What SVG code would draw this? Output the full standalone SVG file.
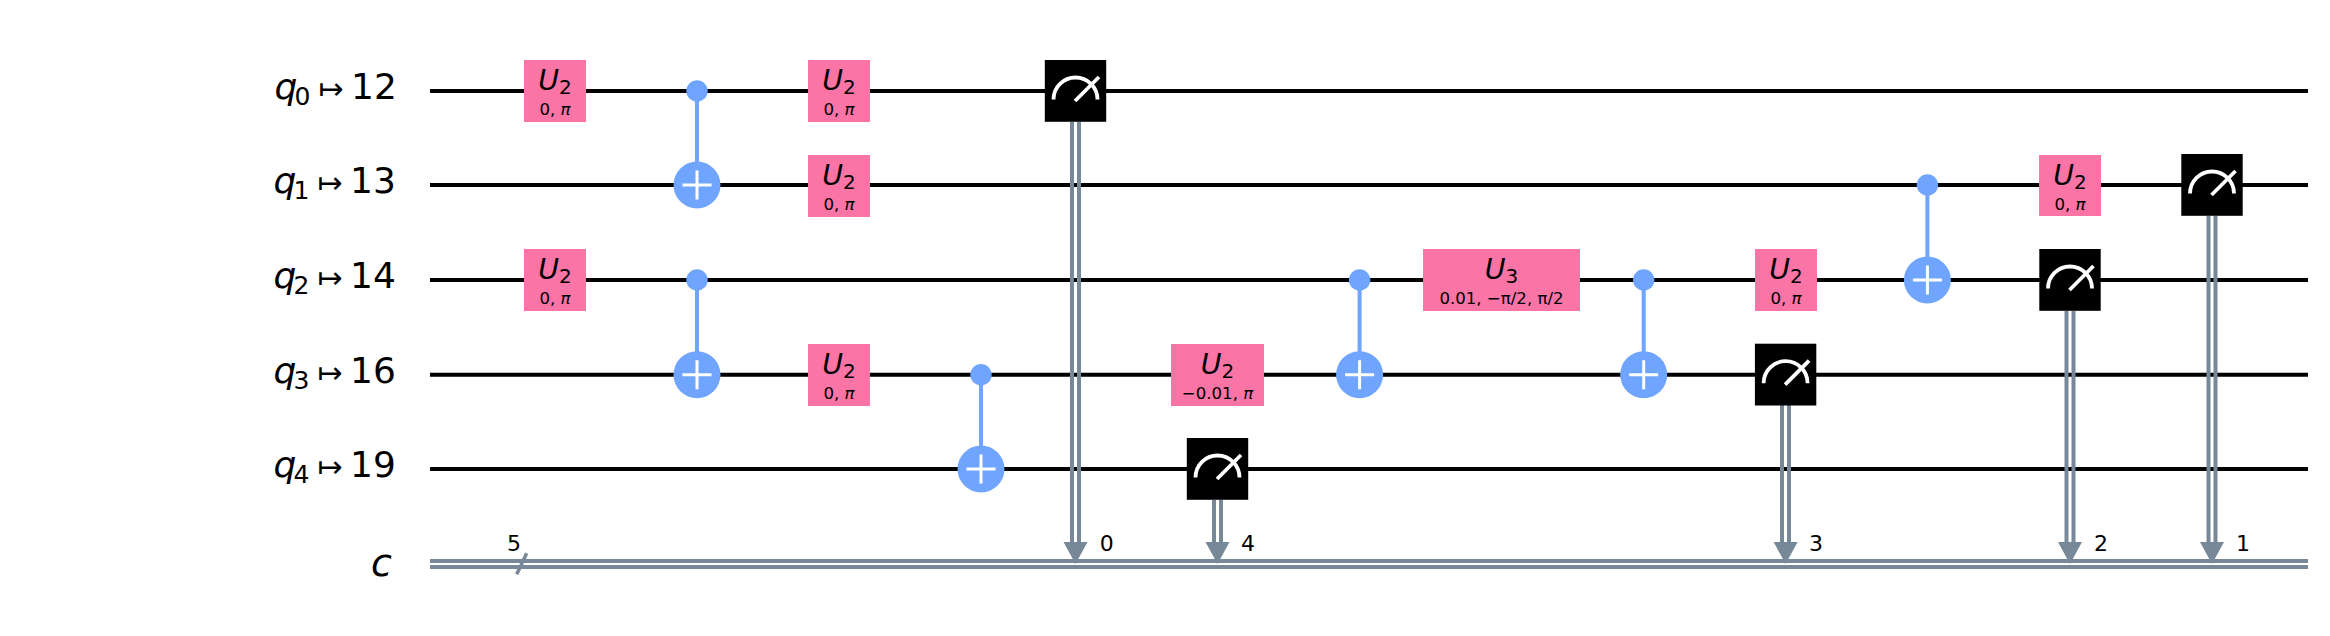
<svg xmlns="http://www.w3.org/2000/svg" xmlns:xlink="http://www.w3.org/1999/xlink" width="2330" height="636" viewBox="0 0 2330 636">
<style>
text{font-family:"DejaVu Sans",sans-serif;fill:#000}
.i{font-style:italic}
.lab{font-size:36px}
.sub{font-size:25px}
.mt{font-size:30px}
.g{fill:#FA74A6}
.gt{font-size:28.4px;text-anchor:middle}
.gs{font-size:20px}
.p{font-size:16.6px;text-anchor:middle}
.w{stroke:#000;stroke-width:4;fill:none}
.cw{stroke:#778899;stroke-width:4;fill:none}
.sl{stroke:#778899;stroke-width:3.5;fill:none}
.b{stroke:#6FA4FF;stroke-width:4;fill:none}
.d{fill:#6FA4FF}
.pl{stroke:#fff;stroke-width:3;fill:none}
.m{fill:#000}
.mi{stroke:#fff;stroke-width:3.8;fill:none}
.ar{fill:#778899}
.n{font-size:22px;text-anchor:middle}
</style>
<defs>
<g id="meter">
<rect class="m" x="-30.7" y="-31" width="61.4" height="61.8"/>
<path class="mi" d="M-22 8.5A22 22 0 0 1 22 8.500"/>
<path class="mi" d="M-0.5 10L23.500 -14"/>
</g>
<g id="plus">
<circle class="d" r="23.500"/>
<path class="pl" d="M-14.500 0H14.500M0 -14.500V14.500"/>
</g>
</defs>
<rect width="2330" height="636" fill="#fff"/>
<g id="connectors">
<path class="w" d="M430 91H2308M430 185H2308M430 280H2308M430 374.700H2308M430 469H2308"/>
<path class="cw" d="M430 561H2308M430 567H2308"/>
<path class="sl" d="M516.700 574.300L526.700 553.300"/>
<path class="b" d="M697 91V185M697 280V374.700M981 374.700V469M1359.600 280V374.700M1643.700 280V374.700M1927.400 185V280"/>
<path class="cw" d="M1072 122V543M1079 122V543M1214 500V543M1221 500V543M1782 405V543M1789 405V543M2066.500 311V543M2073.500 311V543M2208.500 216V543M2215.500 216V543"/>
<path class="ar" d="M1063.500 542H1087.500L1075.500 564ZM1205.500 542H1229.500L1217.500 564ZM1773.600 542H1797.600L1785.600 564ZM2058 542H2082L2070 564ZM2200 542H2224L2212 564Z"/>
</g>
<g id="labels">
<text class="lab" y="99.300"><tspan class="i" x="274.500">q</tspan><tspan class="sub" x="294.500" dy="5.500">0</tspan><tspan class="mt" x="318.500" dy="-5.500">↦</tspan><tspan x="351">12</tspan></text>
<text class="lab" y="193.300"><tspan class="i" x="273.500">q</tspan><tspan class="sub" x="293.500" dy="5.500">1</tspan><tspan class="mt" x="317.500" dy="-5.500">↦</tspan><tspan x="350">13</tspan></text>
<text class="lab" y="288.300"><tspan class="i" x="273.500">q</tspan><tspan class="sub" x="293.500" dy="5.500">2</tspan><tspan class="mt" x="317.500" dy="-5.500">↦</tspan><tspan x="350">14</tspan></text>
<text class="lab" y="383"><tspan class="i" x="273.500">q</tspan><tspan class="sub" x="293.500" dy="5.500">3</tspan><tspan class="mt" x="317.500" dy="-5.500">↦</tspan><tspan x="350">16</tspan></text>
<text class="lab" y="477.300"><tspan class="i" x="273.500">q</tspan><tspan class="sub" x="293.500" dy="5.500">4</tspan><tspan class="mt" x="317.500" dy="-5.500">↦</tspan><tspan x="350">19</tspan></text>
<text class="i" font-size="38" x="371" y="575.500">c</text>
<text class="n" x="514" y="551">5</text>
<text class="n" x="1106.700" y="551">0</text>
<text class="n" x="1248" y="551">4</text>
<text class="n" x="1816" y="551">3</text>
<text class="n" x="2101" y="551">2</text>
<text class="n" x="2243" y="551">1</text>
</g>
<g id="u2-q0-a"><rect class="g" x="524" y="60" width="62" height="62"/><text class="gt" x="555" y="90"><tspan class="i">U</tspan><tspan class="gs" dy="3.500">2</tspan></text><text class="p" x="555" y="115">0, <tspan class="i">π</tspan></text></g>
<g id="u2-q2-a"><rect class="g" x="524" y="249" width="62" height="62"/><text class="gt" x="555" y="279"><tspan class="i">U</tspan><tspan class="gs" dy="3.500">2</tspan></text><text class="p" x="555" y="304">0, <tspan class="i">π</tspan></text></g>
<g id="cx-q0-q1"><circle class="d" cx="697" cy="91" r="10.700"/><use xlink:href="#plus" href="#plus" x="697" y="185"/></g>
<g id="cx-q2-q3"><circle class="d" cx="697" cy="280" r="10.700"/><use xlink:href="#plus" href="#plus" x="697" y="374.700"/></g>
<g id="u2-q0-b"><rect class="g" x="808" y="60" width="62" height="62"/><text class="gt" x="839" y="90"><tspan class="i">U</tspan><tspan class="gs" dy="3.500">2</tspan></text><text class="p" x="839" y="115">0, <tspan class="i">π</tspan></text></g>
<g id="u2-q1-a"><rect class="g" x="808" y="155" width="62" height="62"/><text class="gt" x="839" y="185"><tspan class="i">U</tspan><tspan class="gs" dy="3.500">2</tspan></text><text class="p" x="839" y="210">0, <tspan class="i">π</tspan></text></g>
<g id="u2-q3-a"><rect class="g" x="808" y="344" width="62" height="62"/><text class="gt" x="839" y="374"><tspan class="i">U</tspan><tspan class="gs" dy="3.500">2</tspan></text><text class="p" x="839" y="399">0, <tspan class="i">π</tspan></text></g>
<g id="cx-q3-q4"><circle class="d" cx="981" cy="374.700" r="10.700"/><use xlink:href="#plus" href="#plus" x="981" y="469"/></g>
<g id="meas-q0"><use xlink:href="#meter" href="#meter" x="1075.500" y="91"/></g>
<g id="u2-q3-b"><rect class="g" x="1171" y="344" width="93" height="62"/><text class="gt" x="1217.500" y="374"><tspan class="i">U</tspan><tspan class="gs" dy="3.500">2</tspan></text><text class="p" x="1217.500" y="399">−0.01, <tspan class="i">π</tspan></text></g>
<g id="meas-q4"><use xlink:href="#meter" href="#meter" x="1217.500" y="469"/></g>
<g id="cx-q2-q3-b"><circle class="d" cx="1359.600" cy="280" r="10.700"/><use xlink:href="#plus" href="#plus" x="1359.600" y="374.700"/></g>
<g id="u3-q2"><rect class="g" x="1423" y="249" width="157" height="62"/><text class="gt" x="1501.500" y="279"><tspan class="i">U</tspan><tspan class="gs" dy="3.500">3</tspan></text><text class="p" x="1501.500" y="304">0.01, −π/2, π/2</text></g>
<g id="cx-q2-q3-c"><circle class="d" cx="1643.700" cy="280" r="10.700"/><use xlink:href="#plus" href="#plus" x="1643.700" y="374.700"/></g>
<g id="u2-q2-b"><rect class="g" x="1755" y="249" width="62" height="62"/><text class="gt" x="1786" y="279"><tspan class="i">U</tspan><tspan class="gs" dy="3.500">2</tspan></text><text class="p" x="1786" y="304">0, <tspan class="i">π</tspan></text></g>
<g id="meas-q3"><use xlink:href="#meter" href="#meter" x="1785.600" y="374.700"/></g>
<g id="cx-q1-q2"><circle class="d" cx="1927.400" cy="185" r="10.700"/><use xlink:href="#plus" href="#plus" x="1927.400" y="280"/></g>
<g id="u2-q1-b"><rect class="g" x="2039" y="155" width="62" height="61"/><text class="gt" x="2070" y="185"><tspan class="i">U</tspan><tspan class="gs" dy="3.500">2</tspan></text><text class="p" x="2070" y="210">0, <tspan class="i">π</tspan></text></g>
<g id="meas-q2"><use xlink:href="#meter" href="#meter" x="2070" y="280"/></g>
<g id="meas-q1"><use xlink:href="#meter" href="#meter" x="2212" y="185"/></g>
</svg>
